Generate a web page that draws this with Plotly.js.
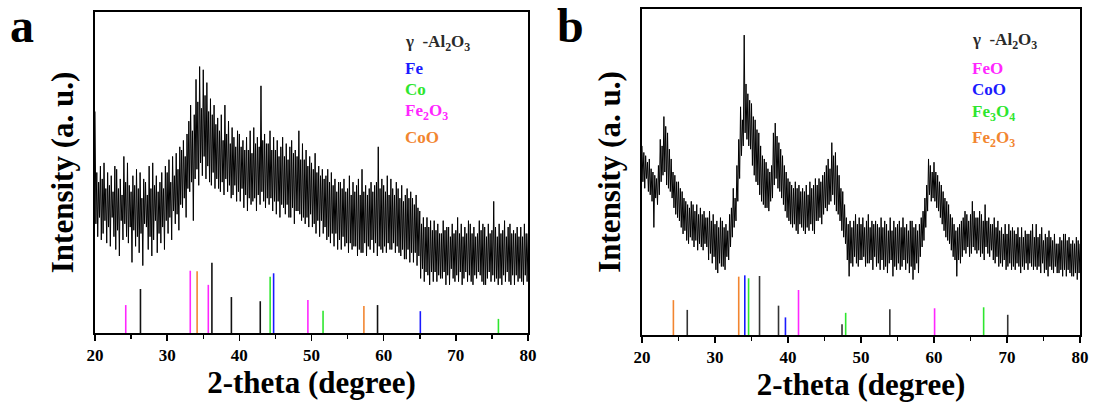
<!DOCTYPE html>
<html>
<head>
<meta charset="utf-8">
<script src="https://cdn.plot.ly/plotly-3.0.1.min.js"></script>
<style>html,body{margin:0;padding:0;background:#fff}#chart{width:1094px;height:410px}</style>
</head>
<body>
<div id="chart"></div>
<script>
// ---------- data ----------
// 2-theta grid for both scans: 20 .. 80 deg, 0.125 deg step
const thetaStart = 20, thetaStep = 0.125;

// panel a intensity (a.u.) (8 readings per degree)
const intensityA = [
 69,34,50,30,47,36,52,29, 48,31,53,35,45,28,50,33, 46,27,49,36,44,30,52,26,
 51,32,45,24,48,35,43,29, 55,34,47,30,53,28,46,33, 44,22,49,32,46,27,51,30,
 45,25,50,31,42,21,48,34, 47,33,43,26,52,30,45,24, 53,29,46,35,49,25,44,31,
 47,28,50,33,45,26,52,35, 50,31,54,36,47,29,55,38, 49,34,56,37,51,32,58,40,
 57,39,60,42,55,36,62,45, 66,44,71,47,63,35,68,48, 79,51,72,46,83,53,70,49,
 82,55,74,48,78,52,69,47, 73,46,68,50,71,45,65,48, 67,45,63,44,68,47,60,43,
 71,48,62,44,66,46,59,42, 64,43,61,46,58,41,63,44, 62,41,58,45,60,39,57,43,
 61,38,57,42,63,40,56,41, 64,42,59,38,61,43,58,40, 77,44,60,41,62,39,59,42,
 59,40,63,42,57,38,61,41, 57,37,60,41,55,36,58,40, 61,39,55,37,59,40,54,36,
 58,36,60,39,56,34,57,38, 55,38,63,37,54,35,59,36, 54,34,57,36,52,33,55,37,
 53,33,51,34,56,31,50,35, 52,30,49,35,51,31,48,33, 49,29,51,30,47,28,50,31,
 46,27,48,31,44,26,47,29, 47,26,45,30,48,27,44,28, 45,25,49,28,43,26,47,27,
 44,27,46,24,48,26,43,25, 51,25,44,28,46,24,43,27, 45,26,47,29,44,25,46,28,
 47,24,58,27,45,26,48,25, 46,27,44,25,49,28,43,26, 48,26,45,28,43,25,47,27,
 45,25,42,24,46,26,41,23, 43,23,45,26,42,22,44,25, 42,22,40,25,43,21,39,24,
 38,17,34,20,36,16,33,19, 36,18,33,15,35,19,32,16, 35,19,32,16,34,18,31,17,
 31,17,35,19,32,15,33,18, 33,15,30,20,34,17,31,16, 32,18,36,16,31,19,34,15,
 30,17,33,19,31,16,35,18, 34,16,31,15,33,18,30,17, 31,19,35,18,32,16,34,15,
 33,15,30,17,34,19,31,16, 32,18,41,16,33,17,30,15, 34,17,31,15,32,18,35,16,
 30,19,33,16,34,15,31,18, 32,15,31,18,33,16,30,17, 33,16,30,15,34,18,31,16,
 31
];

// panel b intensity (a.u.) (8 readings per degree)
const intensityB = [
 58,47,56,45,55,48,53,44, 54,43,51,41,50,33,49,42, 48,40,52,43,60,47,58,49,
 67,50,64,46,62,45,57,44, 54,42,50,39,49,37,47,36, 47,35,45,33,44,31,42,32,
 41,29,40,28,39,30,41,29, 40,27,38,29,40,26,37,28, 39,27,37,26,38,28,36,27,
 36,23,38,25,35,22,37,24, 34,20,35,19,33,22,36,21, 35,21,33,20,34,24,32,23,
 37,27,39,30,45,33,42,35, 52,41,60,48,70,55,66,58, 92,62,77,60,74,58,72,57,
 71,52,67,49,66,47,63,46, 62,43,58,41,55,40,54,39, 53,39,51,38,50,41,52,42,
 62,46,65,48,61,45,59,44, 57,42,55,40,52,38,50,36, 48,35,47,34,46,33,45,34,
 47,32,45,31,46,34,44,33, 45,32,44,31,46,33,43,32, 47,34,45,32,46,31,48,35,
 46,35,48,36,47,34,49,37, 50,39,52,38,54,40,51,41, 59,43,55,40,56,38,52,37,
 49,35,45,32,44,30,40,28, 36,23,34,18,35,22,33,21, 35,24,37,22,34,21,36,23,
 34,23,36,24,33,21,35,22, 37,22,33,23,35,20,34,24, 35,21,34,22,33,20,36,23,
 33,20,35,21,34,19,32,22, 36,23,32,18,35,21,33,20, 34,22,35,20,33,21,36,23,
 33,20,34,22,32,19,35,21, 35,17,33,20,34,22,32,19, 34,24,36,27,38,29,42,33,
 46,38,54,43,52,41,50,42, 53,41,50,39,49,38,47,36, 46,34,44,32,42,30,41,29,
 40,28,37,26,36,24,34,23, 32,18,33,23,34,22,35,24, 36,26,38,25,37,27,35,24,
 37,25,41,27,38,26,36,25, 36,26,38,24,37,25,35,23, 40,27,35,25,36,24,34,26,
 34,23,36,22,33,24,35,21, 32,22,33,21,31,23,34,20, 31,21,34,22,32,20,33,21,
 32,20,31,22,33,21,30,19, 33,21,30,20,32,22,31,20, 31,22,32,21,34,20,30,21,
 34,20,30,21,31,19,33,22, 29,19,31,20,30,18,32,21, 30,20,29,19,31,21,28,19,
 28,19,30,20,29,18,31,20, 31,18,29,20,30,19,28,18, 29,18,28,19,30,17,29,19,
 28
];

// reference stick patterns, panel a
const aAl2O3Pos = [26.3, 36.2, 38.9, 42.9, 59.15];
const aAl2O3H   = [13.7, 21.9, 11.2, 9.9, 8.7];
const aFePos = [44.75, 65.08];
const aFeH   = [18.6, 6.8];
const aCoPos = [44.27, 51.6, 75.9];
const aCoH   = [17.5, 6.9, 4.4];
const aFe2O3Pos = [24.26, 33.2, 35.7, 49.5];
const aFe2O3H   = [8.7, 19.4, 15.0, 10.3];
const aCoOPos = [34.15, 57.26];
const aCoOH   = [19.2, 8.4];

// reference stick patterns, panel b
const bAl2O3Pos = [26.2, 36.1, 38.7, 47.4, 53.95, 70.1];
const bAl2O3H   = [7.7, 18.1, 9.0, 3.3, 7.9, 6.2];
const bFeOPos = [41.44, 60.08];
const bFeOH   = [13.8, 8.2];
const bCoOPos = [34.08, 39.65];
const bCoOH   = [18.3, 5.4];
const bFe3O4Pos = [34.6, 47.9, 66.8];
const bFe3O4H   = [17.4, 6.8, 8.5];
const bFe2O3Pos = [24.3, 33.25];
const bFe2O3H   = [10.7, 17.9];

const panelLabels = ['a', 'b'];
const xTitle = '2-theta (degree)';
const yTitle = 'Intensity (a. u.)';
const legendA = ['\u03b3\u00a0\u00a0-Al<sub>2</sub>O<sub>3</sub>', 'Fe', 'Co', 'Fe<sub>2</sub>O<sub>3</sub>', 'CoO'];
const legendB = ['\u03b3\u00a0\u00a0-Al<sub>2</sub>O<sub>3</sub>', 'FeO', 'CoO', 'Fe<sub>3</sub>O<sub>4</sub>', 'Fe<sub>2</sub>O<sub>3</sub>'];

// ---------- styling ----------
const C = {
  al: '#2a2a2a', blue: '#1a1aff', green: '#2ee62e', magenta: '#ff26ff', orange: '#f28530'
};
const serif = 'Liberation Serif, Times New Roman, serif';
const thetaA = intensityA.map((_, i) => thetaStart + i * thetaStep);
const thetaB = intensityB.map((_, i) => thetaStart + i * thetaStep);

function sticks(pos, h, color, xa, ya) {
  return {type: 'bar', x: pos, y: h, width: 0.22, xaxis: xa, yaxis: ya,
    marker: {color: color, line: {width: 0}}, showlegend: false, hoverinfo: 'x'};
}

const traces = [
  {type: 'scatter', mode: 'lines', x: thetaA, y: intensityA, xaxis: 'x', yaxis: 'y',
   line: {color: '#000', width: 1}, showlegend: false},
  sticks(aAl2O3Pos, aAl2O3H, '#111', 'x', 'y'),
  sticks(aFe2O3Pos, aFe2O3H, C.magenta, 'x', 'y'),
  sticks(aCoOPos, aCoOH, C.orange, 'x', 'y'),
  sticks(aCoPos, aCoH, C.green, 'x', 'y'),
  sticks(aFePos, aFeH, C.blue, 'x', 'y'),
  {type: 'scatter', mode: 'lines', x: thetaB, y: intensityB, xaxis: 'x2', yaxis: 'y2',
   line: {color: '#000', width: 1}, showlegend: false},
  sticks(bAl2O3Pos, bAl2O3H, '#333', 'x2', 'y2'),
  sticks(bFe2O3Pos, bFe2O3H, C.orange, 'x2', 'y2'),
  sticks(bCoOPos, bCoOH, C.blue, 'x2', 'y2'),
  sticks(bFe3O4Pos, bFe3O4H, C.green, 'x2', 'y2'),
  sticks(bFeOPos, bFeOH, C.magenta, 'x2', 'y2')
];

function xAxis(domain, anchor) {
  return {domain: domain, anchor: anchor, range: [20, 80], showline: true, linewidth: 2,
    linecolor: '#000', mirror: true, ticks: 'outside', ticklen: 6, tickwidth: 1.5,
    tickcolor: '#000', dtick: 10, tick0: 20, showgrid: false, zeroline: false,
    minor: {ticks: 'outside', ticklen: 4, tickwidth: 1.5, dtick: 5, tickcolor: '#000', showgrid: false},
    tickfont: {family: serif, size: 17, color: '#000', weight: 'bold'},
    title: {text: xTitle, font: {family: serif, size: 31, color: '#000', weight: 'bold'}, standoff: 5}};
}
function yAxis(domain, anchor, standoff) {
  return {domain: domain, anchor: anchor, range: [0, 100], showline: true, linewidth: 2,
    linecolor: '#000', mirror: true, ticks: '', showticklabels: false, showgrid: false,
    zeroline: false, fixedrange: true,
    title: {text: yTitle, font: {family: serif, size: 31, color: '#000', weight: 'bold'}, standoff: standoff}};
}

const annotations = [];
function legendAnn(list, colors, x0, ys) {
  list.forEach((t, i) => annotations.push({xref: 'paper', yref: 'paper', x: x0 / 1094,
    y: 1 - ys[i] / 410, xanchor: 'left', yanchor: 'middle', showarrow: false, text: t,
    font: {family: serif, size: 17, color: colors[i], weight: 'bold'}}));
}
legendAnn(legendA, [C.al, C.blue, C.green, C.magenta, C.orange], 403, [43, 68, 90, 112, 137]);
legendAnn(legendB, [C.al, C.magenta, C.blue, C.green, C.orange], 970, [41, 68, 90, 113, 139]);
annotations.push({xref: 'paper', yref: 'paper', x: 22 / 1094, y: 1 - 25 / 410, xanchor: 'center', yanchor: 'middle',
  showarrow: false, text: panelLabels[0], font: {family: serif, size: 48, color: '#000', weight: 'bold'}});
annotations.push({xref: 'paper', yref: 'paper', x: 570 / 1094, y: 1 - 25 / 410, xanchor: 'center', yanchor: 'middle',
  showarrow: false, text: panelLabels[1], font: {family: serif, size: 48, color: '#000', weight: 'bold'}});

const layout = {
  width: 1094, height: 410, margin: {l: 0, r: 0, t: 0, b: 0},
  paper_bgcolor: '#fff', plot_bgcolor: '#fff', showlegend: false, barmode: 'overlay',
  font: {family: serif, color: '#000'},
  xaxis: xAxis([95 / 1094, 528 / 1094], 'y'),
  yaxis: yAxis([1 - 333 / 410, 1 - 12 / 410], 'x', 10),
  xaxis2: xAxis([642 / 1094, 1080 / 1094], 'y2'),
  yaxis2: yAxis([1 - 335 / 410, 1 - 9 / 410], 'x2', 10),
  annotations: annotations
};

Plotly.newPlot('chart', traces, layout, {staticPlot: true, displayModeBar: false});
</script>
</body>
</html>
